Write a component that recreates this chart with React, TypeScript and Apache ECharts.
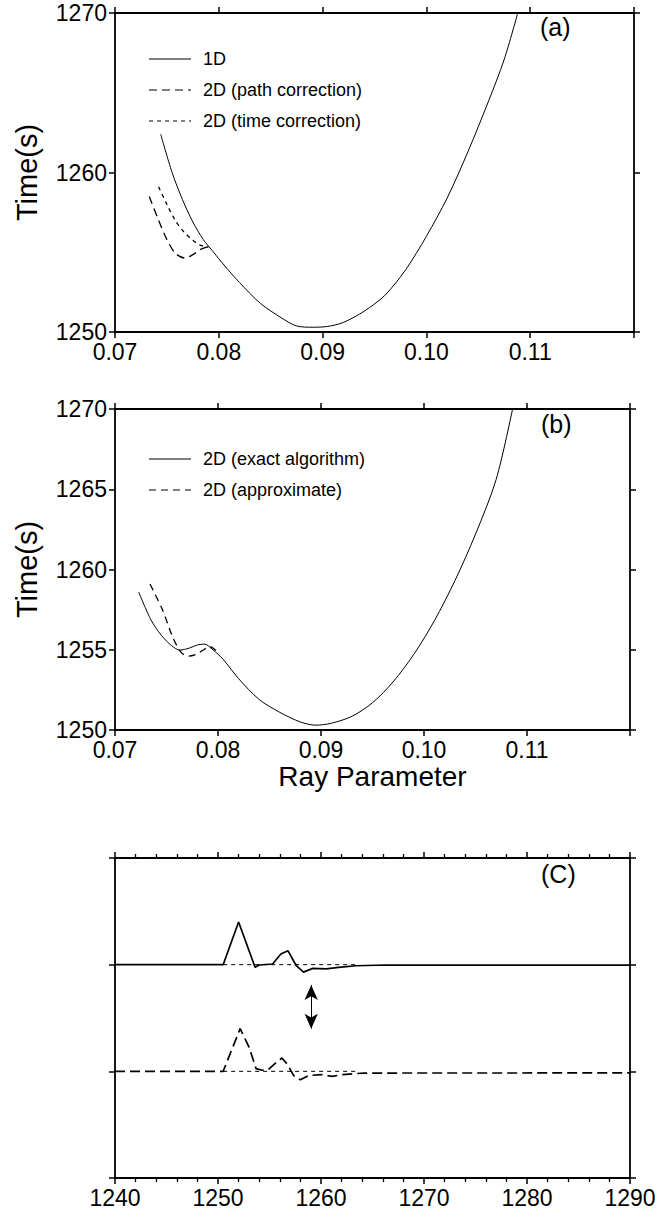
import React, { useEffect, useRef } from "react";
import * as echarts from "echarts";

// ---------- Panel (a) ----------
const a1DX = [0.0744, 0.0755, 0.0765, 0.0775, 0.0785, 0.0795, 0.0805, 0.082, 0.084, 0.086, 0.0875, 0.089, 0.0905, 0.092, 0.094, 0.096, 0.098, 0.1, 0.102, 0.104, 0.106, 0.1075, 0.1088];
const a1DY = [1262.4, 1260.0, 1258.3, 1256.9, 1255.8, 1255.0, 1254.2, 1253.1, 1251.8, 1250.9, 1250.38, 1250.3, 1250.35, 1250.6, 1251.3, 1252.3, 1253.9, 1256.0, 1258.4, 1261.3, 1264.5, 1267.1, 1270.0];
const aPathX = [0.0733, 0.0742, 0.0750, 0.0758, 0.0767, 0.0775, 0.0783, 0.0790];
const aPathY = [1258.5, 1257.0, 1255.8, 1254.95, 1254.64, 1254.85, 1255.2, 1255.35];
const aTimeX = [0.0742, 0.0750, 0.0758, 0.0766, 0.0775, 0.0782, 0.0790];
const aTimeY = [1259.1, 1258.0, 1257.0, 1256.3, 1255.75, 1255.45, 1255.33];

// ---------- Panel (b) ----------
const bExactX = [0.0723, 0.0735, 0.0745, 0.0755, 0.0763, 0.0772, 0.078, 0.0787, 0.0795, 0.0805, 0.082, 0.084, 0.086, 0.088, 0.0895, 0.091, 0.093, 0.095, 0.097, 0.099, 0.101, 0.103, 0.105, 0.107, 0.1086];
const bExactY = [1258.6, 1256.85, 1255.9, 1255.25, 1254.98, 1255.1, 1255.3, 1255.35, 1255.0, 1254.4, 1253.2, 1251.9, 1251.1, 1250.5, 1250.3, 1250.42, 1250.85, 1251.7, 1253.0, 1254.7, 1256.8, 1259.3, 1262.2, 1265.6, 1270.0];
const bApproxX = [0.0734, 0.0746, 0.0756, 0.0764, 0.0771, 0.0778, 0.0785, 0.0792, 0.0798];
const bApproxY = [1259.1, 1257.5, 1255.8, 1254.85, 1254.6, 1254.7, 1254.95, 1255.2, 1254.95];

// ---------- Panel (c) ----------
const cUpperX = [1240, 1250.5, 1252.0, 1253.6, 1254.0, 1255.3, 1256.1, 1256.8, 1257.6, 1258.3, 1259.2, 1260.5, 1261.7, 1263.4, 1266.3, 1290];
const cUpperY = [2, 2, 2.4, 1.975, 1.997, 2.006, 2.1, 2.13, 1.99, 1.93, 1.965, 1.96, 1.975, 1.99, 1.997, 1.995];
const cLowerX = [1240, 1250.5, 1252.15, 1253.0, 1253.7, 1254.3, 1254.85, 1255.5, 1256.2, 1256.7, 1257.35, 1258.0, 1258.8, 1260.0, 1261.1, 1262.1, 1264.2, 1290];
const cLowerY = [1, 1, 1.4, 1.23, 1.025, 1.01, 1.015, 1.07, 1.125, 1.07, 0.96, 0.92, 0.96, 0.97, 0.953, 0.97, 0.984, 0.985];
const cRefX = [1250.5, 1263.5];
const cRefUpperY = [2, 2];
const cRefLowerY = [1, 1];
const cArrowX = 1259.05;
const cArrowY = [1.81, 1.4];

const aLegend = ["1D", "2D (path correction)", "2D (time correction)"];
const bLegend = ["2D (exact algorithm)", "2D (approximate)"];

const FONT = "'Liberation Sans', Arial, Helvetica, sans-serif";

const zip = (xs: number[], ys: number[]) => xs.map((x, i) => [x, ys[i]]);

function xAx(grid: number, pos: "bottom" | "top", min: number, max: number, interval: number, opts: any = {}) {
  return {
    type: "value",
    gridIndex: grid,
    position: pos,
    min,
    max,
    interval,
    axisLine: { show: true, onZero: false, lineStyle: { color: "#000", width: 1.8 } },
    axisTick: { show: true, inside: false, length: 6, lineStyle: { color: "#000", width: 1.5 } },
    axisLabel: {
      show: pos === "bottom",
      color: "#000",
      fontSize: 23,
      fontFamily: FONT,
      margin: 8,
      formatter: (v: number) => String(v),
      ...(opts.axisLabel || {}),
    },
    splitLine: { show: false },
    ...(opts.rest || {}),
  };
}

function yAx(grid: number, pos: "left" | "right", min: number, max: number, interval: number, opts: any = {}) {
  return {
    type: "value",
    gridIndex: grid,
    position: pos,
    min,
    max,
    interval,
    axisLine: { show: true, onZero: false, lineStyle: { color: "#000", width: 1.8 } },
    axisTick: { show: true, inside: false, length: 6, lineStyle: { color: "#000", width: 1.5 } },
    axisLabel: {
      show: pos === "left" && opts.labels !== false,
      color: "#000",
      fontSize: 23,
      fontFamily: FONT,
      margin: 8,
      formatter: (v: number) => String(v),
    },
    splitLine: { show: false },
    ...(opts.rest || {}),
  };
}

function lineSeries(name: string, xi: number, yi: number, data: number[][], width: number, dash: any, smooth: number | boolean) {
  return {
    name,
    type: "line",
    xAxisIndex: xi,
    yAxisIndex: yi,
    data,
    showSymbol: false,
    symbol: "none",
    smooth,
    lineStyle: { color: "#000", width, type: dash },
    silent: true,
  };
}

function legendItems(names: string[], dashes: any[], y0: number, step: number) {
  const els: any[] = [];
  names.forEach((n, i) => {
    const y = y0 + i * step;
    els.push({
      type: "line",
      shape: { x1: 149, y1: y, x2: 191, y2: y },
      style: { stroke: "#000", lineWidth: 1.2, lineDash: dashes[i] },
    });
    els.push({
      type: "text",
      style: { text: n, x: 203, y, fill: "#000", fontSize: 18, fontFamily: FONT, verticalAlign: "middle" },
    });
  });
  return els;
}

export default function App() {
  const ref = useRef<HTMLDivElement>(null);
  useEffect(() => {
    if (!ref.current) return;
    const chart = echarts.init(ref.current, undefined, { renderer: "svg" });
    const timeName = {
      name: "Time(s)",
      nameLocation: "middle",
      nameGap: 74,
      nameRotate: 90,
      nameTextStyle: { color: "#000", fontSize: 29, fontFamily: FONT },
    };
    const decFmt = (v: number) => (v > 0.115 ? "" : v.toFixed(2));
    const option: any = {
      animation: false,
      backgroundColor: "#fff",
      grid: [
        { left: 115, top: 13, width: 519, height: 319 },
        { left: 115, top: 409, width: 515, height: 321 },
        { left: 115, top: 858, width: 515, height: 320 },
      ],
      xAxis: [
        xAx(0, "bottom", 0.07, 0.12, 0.01, { axisLabel: { formatter: decFmt } }),
        xAx(0, "top", 0.07, 0.12, 0.01),
        xAx(1, "bottom", 0.07, 0.12, 0.01, {
          axisLabel: { formatter: decFmt },
          rest: {
            name: "Ray Parameter",
            nameLocation: "middle",
            nameGap: 32,
            nameTextStyle: { color: "#000", fontSize: 28, fontFamily: FONT },
          },
        }),
        xAx(1, "top", 0.07, 0.12, 0.01),
        xAx(2, "bottom", 1240, 1290, 10, {
          rest: { minorTick: { show: true, splitNumber: 5, length: 4, lineStyle: { color: "#000", width: 1.3 } } },
        }),
        xAx(2, "top", 1240, 1290, 10, {
          rest: { minorTick: { show: true, splitNumber: 5, length: 4, lineStyle: { color: "#000", width: 1.3 } } },
        }),
      ],
      yAxis: [
        yAx(0, "left", 1250, 1270, 10, { rest: timeName }),
        yAx(0, "right", 1250, 1270, 10),
        yAx(1, "left", 1250, 1270, 5, { rest: timeName }),
        yAx(1, "right", 1250, 1270, 5),
        yAx(2, "left", 0, 3, 1, { labels: false }),
        yAx(2, "right", 0, 3, 1),
      ],
      series: [
        lineSeries("1D", 0, 0, zip(a1DX, a1DY), 1, "solid", 0.3),
        lineSeries("2D (path correction)", 0, 0, zip(aPathX, aPathY), 1.3, [8, 5], 0.3),
        lineSeries("2D (time correction)", 0, 0, zip(aTimeX, aTimeY), 1.3, [4, 4], 0.3),
        lineSeries("2D (exact algorithm)", 2, 2, zip(bExactX, bExactY), 1, "solid", 0.3),
        lineSeries("2D (approximate)", 2, 2, zip(bApproxX, bApproxY), 1.3, [7, 5], 0.3),
        lineSeries("ref upper", 4, 4, zip(cRefX, cRefUpperY), 1, [4, 4], false),
        lineSeries("ref lower", 4, 4, zip(cRefX, cRefLowerY), 1, [4, 4], false),
        {
          ...lineSeries("trace upper", 4, 4, zip(cUpperX, cUpperY), 1.7, "solid", false),
          markLine: {
            silent: true,
            symbol: ["arrow", "arrow"],
            symbolSize: [10, 15],
            label: { show: false },
            lineStyle: { color: "#000", width: 1, type: "solid" },
            data: [[{ coord: [cArrowX, cArrowY[0]] }, { coord: [cArrowX, cArrowY[1]] }]],
          },
        },
        lineSeries("trace lower", 4, 4, zip(cLowerX, cLowerY), 1.7, [10, 5], false),
      ],
      graphic: [
        ...legendItems(aLegend, [null, [8, 5], [4, 4]], 59, 31),
        ...legendItems(bLegend, [null, [7, 5]], 459, 31),
        { type: "text", style: { text: "(a)", x: 540, y: 14, fill: "#000", fontSize: 25, fontFamily: FONT } },
        { type: "text", style: { text: "(b)", x: 541, y: 411, fill: "#000", fontSize: 25, fontFamily: FONT } },
        { type: "text", style: { text: "(C)", x: 541, y: 861, fill: "#000", fontSize: 25, fontFamily: FONT } },
      ],
    };
    chart.setOption(option);
    return () => chart.dispose();
  }, []);
  return (
    <div
      ref={ref}
      style={{ position: "absolute", left: 0, top: 0, width: 671, height: 1217, background: "#fff" }}
    />
  );
}
